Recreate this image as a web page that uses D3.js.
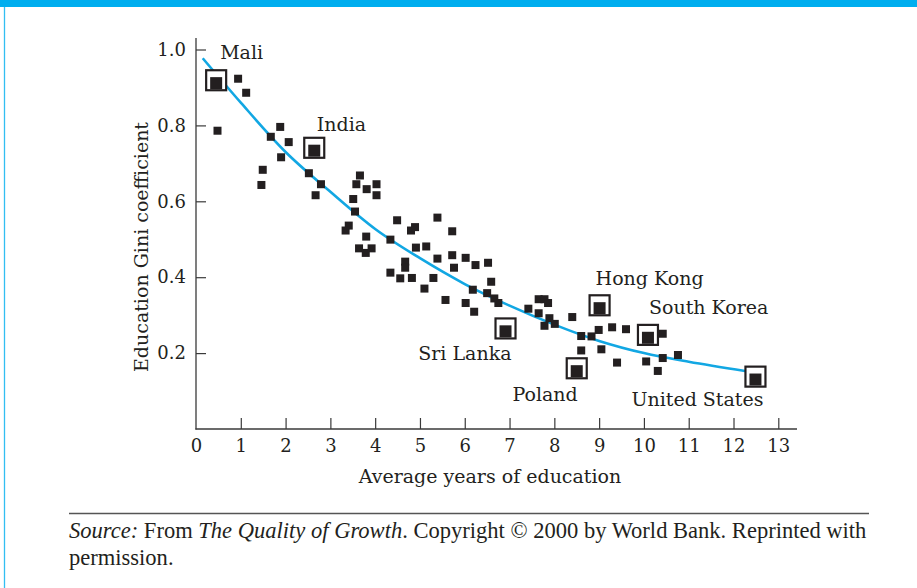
<!DOCTYPE html>
<html><head><meta charset="utf-8">
<script src="https://cdn.jsdelivr.net/npm/d3@7"></script>
<style>
html,body{margin:0;padding:0;background:#fff;}
svg{display:block;}
text{font-family:"DejaVu Serif",serif;fill:#231f20;}
</style></head>
<body><svg id="chart" width="917" height="588"></svg>
<script>
// ---- data ----
const xTicks = [0,1,2,3,4,5,6,7,8,9,10,11,12,13];
const yTicks = [0.2,0.4,0.6,0.8,1.0];
const yTickLabels = ["0.2","0.4","0.6","0.8","1.0"];
const xTitle = "Average years of education";
const yTitle = "Education Gini coefficient";

const countryX = [0.45,0.94,1.12,0.48,1.67,1.88,2.07,1.90,1.49,1.46,2.52,2.79,2.67,3.66,3.58,3.81,4.03,4.03,3.51,3.55,3.41,
 3.34,3.80,3.64,3.79,3.92,4.34,4.49,4.80,4.89,5.39,5.72,4.91,5.14,4.67,4.67,4.34,4.56,4.82,5.30,5.10,5.39,5.72,5.76,6.02,6.24,6.52,6.59,6.18,6.50,6.66,6.75,5.57,6.02,6.21,
 7.42,7.65,7.78,7.86,7.65,7.89,7.78,8.01,8.40,8.60,8.83,8.99,9.29,9.60,8.60,9.05,9.40,10.42,10.05,10.42,10.76,10.31];
const countryY = [0.919,0.923,0.886,0.786,0.770,0.796,0.756,0.716,0.683,0.643,0.674,0.645,0.616,0.668,0.645,0.632,0.645,0.616,0.606,0.573,0.536,
 0.523,0.507,0.476,0.464,0.476,0.499,0.550,0.523,0.532,0.557,0.521,0.478,0.481,0.441,0.425,0.412,0.397,0.398,0.398,0.370,0.449,0.458,0.425,0.451,0.432,0.438,0.388,0.367,0.358,0.344,0.332,0.340,0.332,0.309,
 0.317,0.342,0.342,0.332,0.305,0.292,0.272,0.277,0.295,0.245,0.244,0.261,0.268,0.263,0.207,0.210,0.175,0.251,0.178,0.187,0.195,0.153];

const labelNames = ["Mali","India","Sri Lanka","Hong Kong","South Korea","Poland","United States"];
const labelX = [0.45,2.64,6.91,9.01,10.09,8.50,12.49];
const labelY = [0.919,0.741,0.265,0.326,0.248,0.160,0.138];

const fitX = [0.15,1,2,3,4,5,6,7,8,9,10,11,12.26];
const fitY = [0.977,0.86,0.73,0.625,0.527,0.45,0.382,0.325,0.275,0.232,0.200,0.177,0.153];

const sourceParts = [["Source:",true],[" From ",false],["The Quality of Growth",true],[". Copyright © 2000 by World Bank. Reprinted with",false]];
const sourceLine2 = "permission.";

// ---- layout ----
const svg = d3.select("#chart");
const blue = "#00aeef", ink = "#231f20", axisCol = "#3a3a3a";
const x = d3.scaleLinear().domain([0,13]).range([196,778.3]);
const y = d3.scaleLinear().domain([0,1]).range([429,49.5]);
const fs = 19, tfs = 18;

svg.append("rect").attr("x",0).attr("y",0).attr("width",917).attr("height",7).attr("fill",blue);
svg.append("line").attr("x1",4.5).attr("x2",4.5).attr("y1",7).attr("y2",588).attr("stroke",blue).attr("stroke-width",1.3).attr("opacity",0.8);

// axes
const gx = svg.append("g").attr("transform","translate(0,429)")
  .call(d3.axisBottom(x).tickValues(xTicks).tickSizeInner(-11).tickSizeOuter(0).tickPadding(10).tickFormat(d3.format("d")));
gx.select(".domain").remove();
gx.selectAll(".tick line").attr("stroke",axisCol).attr("stroke-width",1.2).filter(d=>d===0).remove();
gx.selectAll(".tick text").attr("font-family","DejaVu Serif").attr("font-size",tfs).attr("fill",ink).attr("dy","0.71em");

const gy = svg.append("g").attr("transform","translate(196,0)")
  .call(d3.axisLeft(y).tickValues(yTicks).tickSizeInner(-10).tickSizeOuter(0).tickPadding(10).tickFormat((d,i)=>yTickLabels[i]));
gy.select(".domain").remove();
gy.selectAll(".tick line").attr("stroke",axisCol).attr("stroke-width",1.2);
gy.selectAll(".tick text").attr("font-family","DejaVu Serif").attr("font-size",tfs).attr("fill",ink);

svg.append("line").attr("x1",196).attr("x2",196).attr("y1",38).attr("y2",429.6).attr("stroke",axisCol).attr("stroke-width",1.3);
svg.append("line").attr("x1",195.4).attr("x2",797).attr("y1",429).attr("y2",429).attr("stroke",axisCol).attr("stroke-width",1.3);

svg.append("text").attr("x",490).attr("y",483).attr("text-anchor","middle").attr("font-size",fs).text(xTitle);
svg.append("text").attr("transform","translate(148,247) rotate(-90)").attr("text-anchor","middle").attr("font-size",fs).text(yTitle);

// fit line
const line = d3.line().x((d,i)=>x(fitX[i])).y((d,i)=>y(fitY[i])).curve(d3.curveMonotoneX);
svg.append("path").attr("d",line(fitX)).attr("fill","none").attr("stroke","#12a7e3").attr("stroke-width",2.6);

// points
const s = 8;
svg.append("g").selectAll("rect").data(countryX).join("rect")
  .attr("x",(d,i)=>x(d)-s/2).attr("y",(d,i)=>y(countryY[i])-s/2)
  .attr("width",s).attr("height",s).attr("fill",ink);

// labelled points
const boxG = svg.append("g");
const B = 20, inner = 12;
labelNames.forEach((n,i)=>{
  const cx = x(labelX[i]), cy = y(labelY[i]);
  boxG.append("rect").attr("x",cx-B/2).attr("y",cy-B/2).attr("width",B).attr("height",B)
    .attr("fill","#fff").attr("stroke",ink).attr("stroke-width",2.2);
  boxG.append("rect").attr("x",cx-inner/2).attr("y",cy+B/2-1.1-inner).attr("width",inner).attr("height",inner).attr("fill",ink);
});
const labelOff = [[4,-21,"start"],[2.5,-17,"start"],[6,32,"end"],[-4,-20,"start"],[1,-21,"start"],[1,33,"end"],[8,29,"end"]];
labelNames.forEach((n,i)=>{
  svg.append("text").attr("x",x(labelX[i])+labelOff[i][0]).attr("y",y(labelY[i])+labelOff[i][1])
    .attr("text-anchor",labelOff[i][2]).attr("font-size",fs).text(n);
});

// source
svg.append("line").attr("x1",69).attr("x2",869).attr("y1",513.5).attr("y2",513.5).attr("stroke","#555").attr("stroke-width",1.5);
const src = svg.append("text").attr("x",69).attr("y",538).attr("font-size",19).style("font-family","'Liberation Serif',serif");
sourceParts.forEach(p=>src.append("tspan").attr("font-style",p[1]?"italic":"normal").text(p[0]));
const w = src.node().getComputedTextLength();
const sfs = 19*798/w;
src.attr("font-size",sfs);
svg.append("text").attr("x",69).attr("y",565).attr("font-size",sfs).style("font-family","'Liberation Serif',serif").text(sourceLine2);
</script></body></html>
